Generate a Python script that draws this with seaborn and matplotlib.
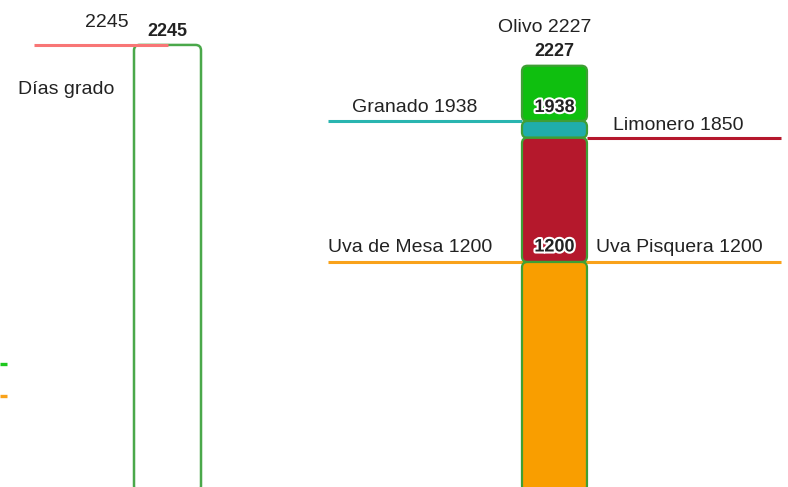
import matplotlib
matplotlib.use("Agg")
import numpy as np
import pandas as pd
import seaborn as sns
import matplotlib.pyplot as plt
from matplotlib.patches import FancyBboxPatch
import matplotlib.patheffects as pe

# ---------------- data ----------------
reference_label = "Días grado"
reference_value = 2245

crops = ["Olivo", "Granado", "Limonero", "Uva de Mesa", "Uva Pisquera"]
crop_values = [2227, 1938, 1850, 1200, 1200]

stack_levels = [2227, 1938, 1850, 1200]          # tops of stacked segments
stack_colors = ["#0fbf0f", "#20adab", "#b5182c", "#f99e00"]

left_edge_marks = [640, 479]                      # partial marks at left edge
left_edge_colors = ["#1ec81e", "#f9a21a"]

# ---------------- style ----------------
sns.set_theme(style="white")
plt.rcParams["font.family"] = ["Liberation Sans", "DejaVu Sans"]

W, H = 788, 487
fig = plt.figure(figsize=(W / 100, H / 100), dpi=100)
axL = fig.add_axes([0, 0, 300 / W, 1])
axR = fig.add_axes([300 / W, 0, 488 / W, 1])

EDGE = "#3f9f35"


def px_per_unit(ax):
    (x0, y0), (x1, y1) = ax.transData.transform([(0, 0), (1, 1)])
    return abs(x1 - x0), abs(y1 - y0)


def round_patches(ax, radius_px, edgecolor, lw):
    sx, sy = px_per_unit(ax)
    r = radius_px / sx
    for p in list(ax.patches):
        fb = FancyBboxPatch((p.get_x(), p.get_y()), p.get_width(), p.get_height(),
                            boxstyle=f"round,pad=0,rounding_size={r}",
                            mutation_aspect=sx / sy,
                            facecolor=p.get_facecolor(), edgecolor=edgecolor,
                            linewidth=lw, zorder=2)
        p.remove()
        ax.add_patch(fb)


# ---------------- left panel ----------------
dfL = pd.DataFrame({"cat": [reference_label], "val": [reference_value]})
sns.barplot(data=dfL, x="cat", y="val", ax=axL, fill=False, color=EDGE,
            width=0.8, saturation=1, linewidth=1.6)
axL.set_xlim(-2.0, 1.582)
axL.set_ylim(21.6, 2471)
axL.axis("off")
round_patches(axL, 5.5, "#4aa84a", 1.8)

axL.hlines(reference_value, -1.594, 0.0, color="#f87676", lw=2.2, zorder=3)
for v, c in zip(left_edge_marks, left_edge_colors):
    axL.hlines(v, -2.0, -1.916, color=c, lw=2.4, zorder=3)

axL.annotate(f"{reference_value}", (-0.722, reference_value), xytext=(0, 18),
             textcoords="offset pixels", ha="center", va="baseline",
             fontsize=14, color="#222222")
axL.annotate(f"{reference_value}", (0, reference_value), xytext=(0, 9),
             textcoords="offset pixels", ha="center", va="baseline",
             fontsize=13, fontweight="bold", color="#222222")
fig.text(18 / W, 1 - 94.5 / H, reference_label, ha="left", va="baseline",
         fontsize=14, color="#222222")

# ---------------- right panel ----------------
for top, col in zip(stack_levels, stack_colors):
    dfR = pd.DataFrame({"cat": ["Cultivos"], "val": [top]})
    sns.barplot(data=dfR, x="cat", y="val", ax=axR, color=col, width=0.8,
                saturation=1)
bottoms = stack_levels[1:] + [0]
bottom_of = dict(zip(stack_levels, bottoms))
for p in axR.patches:
    top = round(p.get_height())
    b = bottom_of[top]
    p.set_y(b)
    p.set_height(top - b)

axR.set_xlim(-3.132, 2.874)
axR.set_ylim(22.5, 2571)
axR.axis("off")
round_patches(axR, 5.5, EDGE, 1.6)

vals = dict(zip(crops, crop_values))
axR.hlines(vals["Granado"], -2.788, -0.4, color="#2ab5b0", lw=2.2, zorder=1)
axR.hlines(vals["Limonero"], 0.4, 2.788, color="#b5182c", lw=2.2, zorder=1)
axR.hlines(vals["Uva de Mesa"], -2.788, 2.788, color="#f9a21a", lw=2.2, zorder=1)

txt = dict(fontsize=14, color="#222222", ha="center", va="baseline",
           textcoords="offset pixels")
axR.annotate(f"Olivo {vals['Olivo']}", (-0.117, vals["Olivo"]), xytext=(0, 34), **txt)
axR.annotate(f"Granado {vals['Granado']}", (-1.723, vals["Granado"]), xytext=(0, 9), **txt)
axR.annotate(f"Limonero {vals['Limonero']}", (1.52, vals["Limonero"]), xytext=(0, 8), **txt)
axR.annotate(f"Uva de Mesa {vals['Uva de Mesa']}", (-2.788, vals["Uva de Mesa"]),
             xytext=(0, 10), **{**txt, "ha": "left"})
axR.annotate(f"Uva Pisquera {vals['Uva Pisquera']}", (1.538, vals["Uva Pisquera"]),
             xytext=(0, 10), **txt)

bold = dict(fontsize=13, fontweight="bold", color="#222222", ha="center",
            va="baseline", textcoords="offset pixels")
axR.annotate(f"{vals['Olivo']}", (0, vals["Olivo"]), xytext=(0, 10), **bold)
halo = [pe.withStroke(linewidth=3, foreground="white")]
axR.annotate(f"{vals['Granado']}", (0, vals["Granado"]), xytext=(0, 9),
             path_effects=halo, zorder=5, **bold)
axR.annotate(f"{vals['Uva de Mesa']}", (0, vals["Uva de Mesa"]), xytext=(0, 10.5),
             path_effects=halo, zorder=5, **bold)

fig.savefig("out.png", dpi=100)
